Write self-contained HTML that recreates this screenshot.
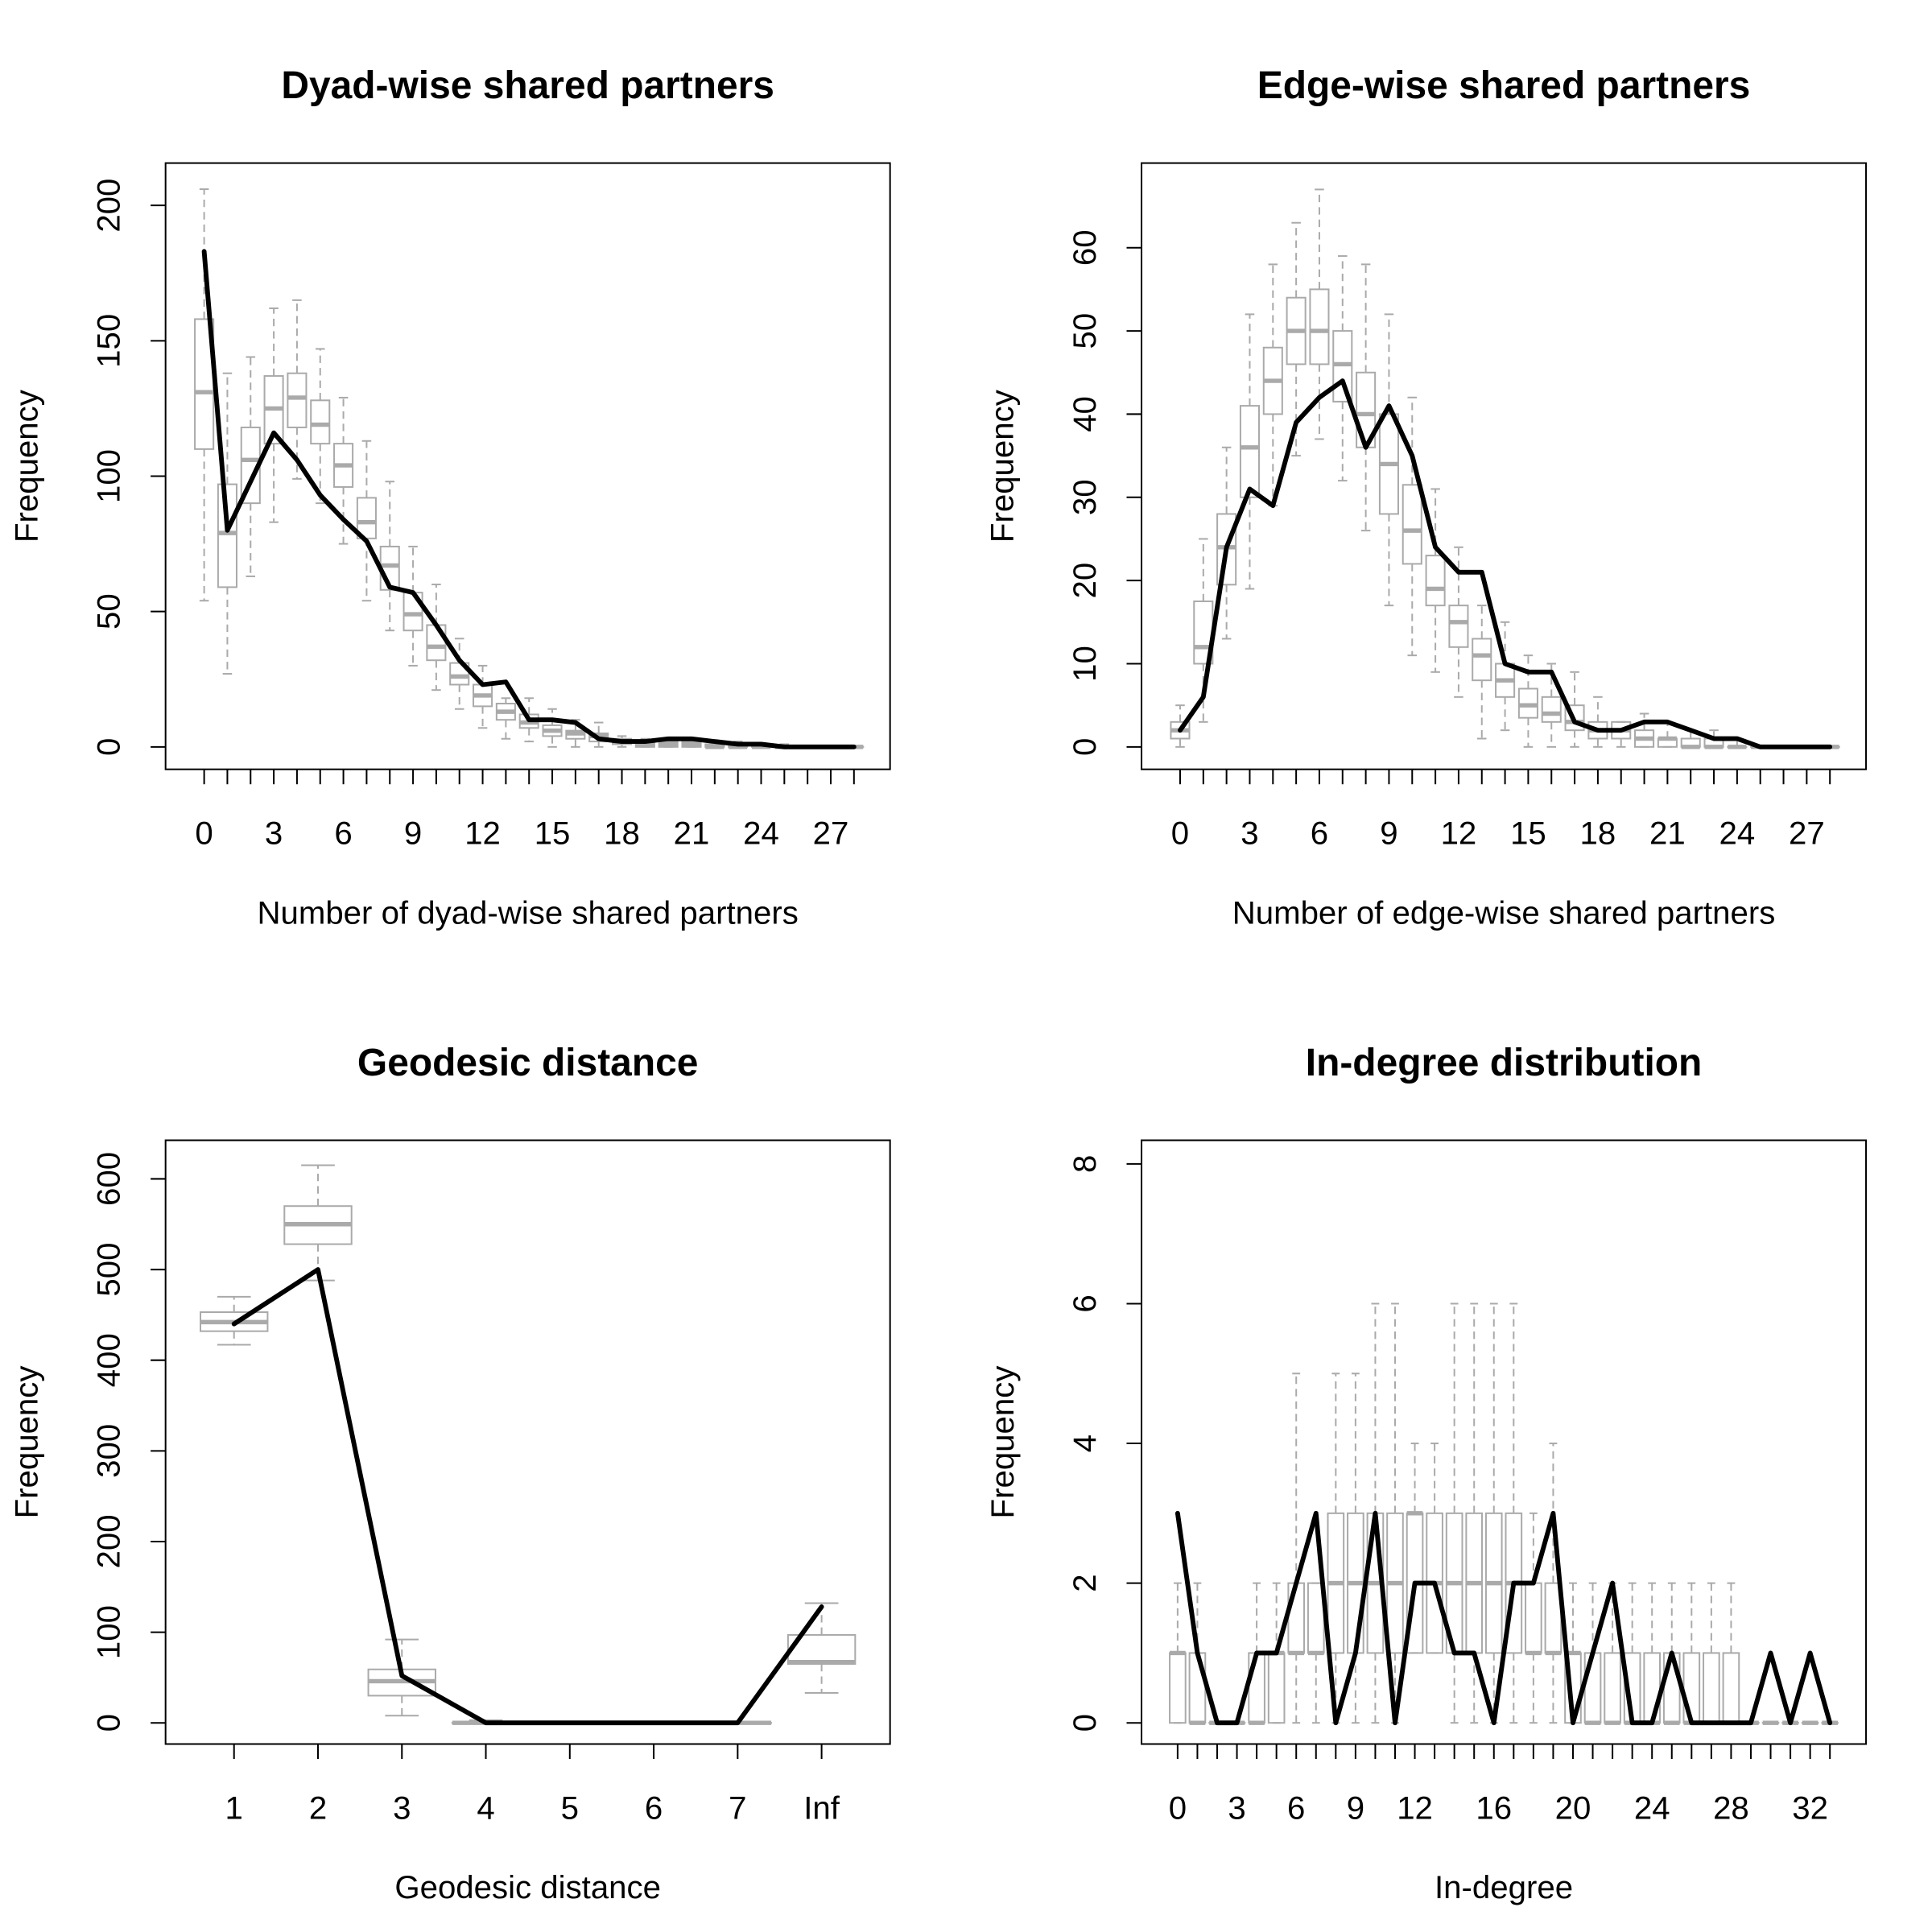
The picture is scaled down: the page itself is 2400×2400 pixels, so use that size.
<!DOCTYPE html>
<html><head><meta charset="utf-8"><style>
html,body{margin:0;padding:0;background:#fff}
svg{display:block}
text{font-family:"Liberation Sans",Arial,sans-serif;fill:#000}
</style></head>
<body>
<svg id="fig" width="2400" height="2400" viewBox="0 0 1552 1552" xmlns="http://www.w3.org/2000/svg"></svg>
<script>
// ---- Panel 1: dyad-wise shared partners ----
const dspCats = [0,1,2,3,4,5,6,7,8,9,10,11,12,13,14,15,16,17,18,19,20,21,22,23,24,25,26,27,28];
const dspObs = [183,80,98,116,106,93,84,76,59,57,45,32,23,24,10,10,9,3,2,2,3,3,2,1,1,0,0,0,0];
const dspLow = [54,27,63,83,99,90,75,54,43,30,21,14,7,3,2,0,0,0,0,0,0,0,0,0,0,0,0,0,0];
const dspQ1 = [110,59,90,112,118,112,96,77,58,43,32,23,15,10,7,4,3,2,1,0,0,0,0,0,0,0,0,0,0];
const dspMed = [131,79,106,125,129,119,104,83,67,49,37,26,19,13,9,6,5,4,2,1,1,1,0,0,0,0,0,0,0];
const dspQ3 = [158,97,118,137,138,128,112,92,74,57,45,31,23,16,12,8,6,5,3,2,2,2,1,1,1,0,0,0,0];
const dspHigh = [206,138,144,162,165,147,129,113,98,74,60,40,30,18,18,14,10,9,4,3,3,3,2,2,1,1,0,0,0];
const dspXTicks = [0,3,6,9,12,15,18,21,24,27];
const dspYTicks = [0,50,100,150,200];

// ---- Panel 2: edge-wise shared partners ----
const espCats = [0,1,2,3,4,5,6,7,8,9,10,11,12,13,14,15,16,17,18,19,20,21,22,23,24,25,26,27,28];
const espObs = [2,6,24,31,29,39,42,44,36,41,35,24,21,21,10,9,9,3,2,2,3,3,2,1,1,0,0,0,0];
const espLow = [0,3,13,19,29,35,37,32,26,17,11,9,6,1,2,0,0,0,0,0,0,0,0,0,0,0,0,0,0];
const espQ1 = [1,10,19.5,30,40,46,46,41.5,36,28,22,17,12,8,6,3.5,3,2,1,1,0,0,0,0,0,0,0,0,0];
const espMed = [2,12,24,36,44,50,50,46,40,34,26,19,15,11,8,5,4,3,2,2,1,1,0,0,0,0,0,0,0];
const espQ3 = [3,17.5,28,41,48,54,55,50,45,40,31.5,23,17,13,10,7,6,5,3,3,2,1,1,1,0,0,0,0,0];
const espHigh = [5,25,36,52,58,63,67,59,58,52,42,31,24,17,15,11,10,9,6,3,4,3,2,2,1,0,0,0,0];
const espXTicks = [0,3,6,9,12,15,18,21,24,27];
const espYTicks = [0,10,20,30,40,50,60];

// ---- Panel 3: geodesic distance ----
const geoCats = ["1","2","3","4","5","6","7","Inf"];
const geoObs = [440,500,52,0,0,0,0,128];
const geoLow = [417,488,8,0,0,0,0,33];
const geoQ1 = [432,528,30,0,0,0,0,65];
const geoMed = [442,550,46,0,0,0,0,67];
const geoQ3 = [453,570,59,0,0,0,0,97];
const geoHigh = [470,615,92,3,0,0,0,132];
const geoYTicks = [0,100,200,300,400,500,600];

// ---- Panel 4: in-degree ----
const idegCats = [0,1,2,3,4,5,6,7,8,9,10,11,12,13,14,15,16,17,18,19,20,21,22,23,24,25,26,27,28,29,30,31,32,33];
const idegObs = [3,1,0,0,1,1,2,3,0,1,3,0,2,2,1,1,0,2,2,3,0,1,2,0,0,1,0,0,0,0,1,0,1,0];
const idegLow = [0,0,0,0,0,0,0,0,0,0,0,0,1,1,0,0,0,0,0,0,0,0,0,0,0,0,0,0,0,0,0,0,0,0];
const idegQ1 = [0,0,0,0,0,0,1,1,1,1,1,1,1,1,1,1,1,1,1,1,0,0,0,0,0,0,0,0,0,0,0,0,0,0];
const idegMed = [1,0,0,0,0,1,1,1,2,2,2,2,3,2,2,2,2,2,1,1,1,0,0,0,0,0,0,0,0,0,0,0,0,0];
const idegQ3 = [1,1,0,0,1,1,2,2,3,3,3,3,3,3,3,3,3,3,2,2,1,1,1,1,1,1,1,1,1,0,0,0,0,0];
const idegHigh = [2,2,0,0,2,2,5,2,5,5,6,6,4,4,6,6,6,6,3,4,2,2,2,2,2,2,2,2,2,0,0,0,0,0];
const idegXTicks = [0,3,6,9,12,16,20,24,28,32];
const idegYTicks = [0,2,4,6,8];

const NS = "http://www.w3.org/2000/svg";
const svg = document.getElementById('fig');
function mk(tag, attrs, parent, txt){
  const e = document.createElementNS(NS, tag);
  for (const k in attrs) e.setAttribute(k, attrs[k]);
  if (txt !== undefined) e.textContent = txt;
  (parent||svg).appendChild(e);
  return e;
}

function panel(p){
  const g = mk('g', {});
  
  
  const {L,R,T,B} = p.box;
  const n = p.cats.length;
  const xS = i => p.x0 + (p.x1 - p.x0) * i / (n - 1);
  const yS = v => p.y0 + (p.yv1 - p.y0) * v / p.vmax;
  const step = xS(1) - xS(0);
  const bw = step * p.boxFrac / 2, cw = step * p.capFrac / 2;
  for (let i = 0; i < n; i++){
    const x = xS(i);
    const bg = mk('g', {}, g);
    
    
    const col = '#aaaaaa';
    mk('line', {x1:x, x2:x, y1:yS(p.q3[i]), y2:yS(p.high[i]), stroke:col, 'stroke-width':1.3, 'stroke-dasharray':'6,4'}, bg);
    mk('line', {x1:x, x2:x, y1:yS(p.q1[i]), y2:yS(p.low[i]), stroke:col, 'stroke-width':1.3, 'stroke-dasharray':'6,4'}, bg);
    mk('line', {x1:x-cw, x2:x+cw, y1:yS(p.high[i]), y2:yS(p.high[i]), stroke:col, 'stroke-width':1.3}, bg);
    mk('line', {x1:x-cw, x2:x+cw, y1:yS(p.low[i]), y2:yS(p.low[i]), stroke:col, 'stroke-width':1.3}, bg);
    const yt = yS(p.q3[i]), yb = yS(p.q1[i]);
    mk('rect', {x:x-bw, y:yt, width:2*bw, height:Math.max(0.01, yb-yt), fill:'none', stroke:col, 'stroke-width':1.3}, bg);
    mk('line', {x1:x-bw, x2:x+bw, y1:yS(p.med[i]), y2:yS(p.med[i]), stroke:col, 'stroke-width':3.5}, bg);
  }
  const pts = p.obs.map((v,i) => xS(i).toFixed(2) + ',' + yS(v).toFixed(2)).join(' ');
  const pl = mk('polyline', {points:pts, fill:'none', stroke:'#000', 'stroke-width':3.8, 'stroke-linejoin':'round', 'stroke-linecap':'round'}, g);
  
  
  const fr = mk('rect', {x:L, y:T, width:R-L, height:B-T, fill:'none', stroke:'#000', 'stroke-width':1.3}, g);
  
  
  for (let i = 0; i < n; i++){
    mk('line', {x1:xS(i), x2:xS(i), y1:B, y2:B+12, stroke:'#000', 'stroke-width':1.3}, g);
  }
  const xl = p.xLabels;
  for (let k = 0; k < xl.length; k++){
    const xv = p.xLabelIdx ? xS(p.xLabelIdx[k]) : xS(xl[k]);
    const t = mk('text', {x:xv, y:B+60, 'font-size':26, 'text-anchor':'middle'}, g, String(xl[k]));
    
    
  }
  for (const v of p.yTicks){
    const y = yS(v);
    mk('line', {x1:L-12, x2:L, y1:y, y2:y, stroke:'#000', 'stroke-width':1.3}, g);
    const t = mk('text', {x:L-37, y:y, 'font-size':26, 'text-anchor':'middle', transform:`rotate(-90 ${L-37} ${y})`}, g, String(v));
    
    
  }
  const tt = mk('text', {x:(L+R)/2, y:T-52, 'font-size':31, 'font-weight':'bold', 'text-anchor':'middle'}, g, p.title);
  
  
  const xt = mk('text', {x:(L+R)/2, y:B+124, 'font-size':26, 'text-anchor':'middle'}, g, p.xTitle);
  
  
  const cy = (T+B)/2, cx = L-103;
  const yt = mk('text', {x:cx, y:cy, 'font-size':26, 'text-anchor':'middle', transform:`rotate(-90 ${cx} ${cy})`}, g, 'Frequency');
  
  
}

panel({name:'dyad-wise-shared-partners-panel', box:{L:133,R:715,T:131,B:618},
  cats:dspCats, obs:dspObs, low:dspLow, q1:dspQ1, med:dspMed, q3:dspQ3, high:dspHigh,
  x0:164, x1:686, y0:600, yv1:165, vmax:200, boxFrac:0.8, capFrac:0.4,
  xLabels:dspXTicks, yTicks:dspYTicks,
  title:'Dyad-wise shared partners', xTitle:'Number of dyad-wise shared partners'});
panel({name:'edge-wise-shared-partners-panel', box:{L:917,R:1499,T:131,B:618},
  cats:espCats, obs:espObs, low:espLow, q1:espQ1, med:espMed, q3:espQ3, high:espHigh,
  x0:948, x1:1470, y0:600, yv1:199, vmax:60, boxFrac:0.8, capFrac:0.4,
  xLabels:espXTicks, yTicks:espYTicks,
  title:'Edge-wise shared partners', xTitle:'Number of edge-wise shared partners'});
panel({name:'geodesic-distance-panel', box:{L:133,R:715,T:916,B:1401},
  cats:geoCats, obs:geoObs, low:geoLow, q1:geoQ1, med:geoMed, q3:geoQ3, high:geoHigh,
  x0:188, x1:660, y0:1384, yv1:947, vmax:600, boxFrac:0.8, capFrac:0.4,
  xLabels:geoCats, xLabelIdx:[0,1,2,3,4,5,6,7], yTicks:geoYTicks,
  title:'Geodesic distance', xTitle:'Geodesic distance'});
panel({name:'in-degree-distribution-panel', box:{L:917,R:1499,T:916,B:1401},
  cats:idegCats, obs:idegObs, low:idegLow, q1:idegQ1, med:idegMed, q3:idegQ3, high:idegHigh,
  x0:946, x1:1470, y0:1384, yv1:935, vmax:8, boxFrac:0.8, capFrac:0.4,
  xLabels:idegXTicks, yTicks:idegYTicks,
  title:'In-degree distribution', xTitle:'In-degree'});
</script>
</body></html>
